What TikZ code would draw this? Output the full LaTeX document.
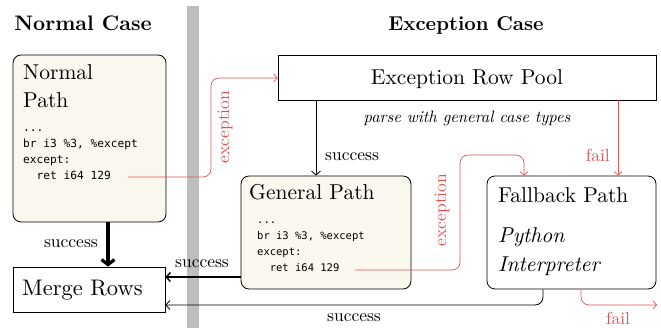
\documentclass[tikz,border=0pt]{standalone}
\usepackage{fontspec}
\setmainfont{lmroman10}[Extension=.otf, UprightFont=*-regular, BoldFont=*-bold, ItalicFont=*-italic, BoldItalicFont=*-bolditalic]
\newfontfamily\codefont{DejaVu Sans Mono}
\usetikzlibrary{arrows.meta}
\definecolor{exred}{RGB}{222,85,85}
\definecolor{cream}{RGB}{250,247,238}
\definecolor{bargray}{RGB}{190,190,190}
\begin{document}
\begin{tikzpicture}[x=1pt,y=-1pt,
  pathbox/.style={draw, line width=0.8pt, rounded corners=8pt, fill=cream, inner sep=0pt},
  plainbox/.style={draw, line width=0.8pt, fill=white, inner sep=0pt},
  bigtxt/.style={font=\fontsize{21.5}{26}\selectfont, inner sep=0pt, anchor=base west},
  codeA/.style={font=\codefont\fontsize{11.2}{14}\selectfont, inner sep=0pt, anchor=base west},
  codeB/.style={font=\codefont\fontsize{10.5}{14}\selectfont, inner sep=0pt, anchor=base west},
  lbl/.style={font=\fontsize{17.5}{20}\selectfont, inner sep=0pt},
  redlbl/.style={lbl, text=exred},
  redarrow/.style={draw=exred, line width=0.7pt, rounded corners=8pt, -{Straight Barb[length=3.5pt,width=8pt]}},
  blkarrow/.style={draw=black, line width=0.8pt, rounded corners=8pt, -{Straight Barb[length=4pt,width=9pt]}},
]
\useasboundingbox (0,0) rectangle (661,328);
% titles
\node[font=\bfseries\fontsize{21}{24}\selectfont, inner sep=0pt, anchor=base] (t1) at (83,31) {Normal Case};
\node[font=\bfseries\fontsize{20}{24}\selectfont, inner sep=0pt, anchor=base] (t2) at (466,31) {Exception Case};
% separator bar
\fill[bargray] (187,6) rectangle (199,328);

% Normal path
\node[pathbox, minimum width=153pt, minimum height=167pt] (np) at (89.5,138.5) {};
\node[bigtxt] (npt1) at (23,80) {Normal};
\node[bigtxt] (npt2) at (23,108) {Path};
\node[codeA] (npc1) at (23,132) {...};
\node[codeA] (npc2) at (23,148) {br i3 \%3, \%except};
\node[codeA] (npc3) at (23,164) {except:};
\node[codeA] (npc4) at (23,180) {\phantom{xx}ret i64 129};
\coordinate (nex) at (128,177);

% Merge rows
\node[plainbox, minimum width=152pt, minimum height=45pt] (mr) at (89,289.5) {};
\node[bigtxt, font=\fontsize{22.5}{26}\selectfont] (mrt) at (22,296) {Merge Rows};

% Exception Row Pool
\node[plainbox, minimum width=378pt, minimum height=45pt] (erp) at (467,77.5) {};
\node[font=\fontsize{21.5}{26}\selectfont, inner sep=0pt, anchor=base] (erpt) at (467,85) {Exception Row Pool};
\node[font=\itshape\fontsize{16.5}{20}\selectfont, inner sep=0pt, anchor=base] (parse) at (467,123) {parse with general case types};

% General path
\node[pathbox, minimum width=170pt, minimum height=113pt] (gp) at (326,232.5) {};
\node[bigtxt] (gpt) at (249,200) {General Path};
\node[codeB] (gpc1) at (257,224) {...};
\node[codeB] (gpc2) at (257,240) {br i3 \%3, \%except};
\node[codeB] (gpc3) at (257,256) {except:};
\node[codeB] (gpc4) at (257,272) {\phantom{xx}ret i64 129};
\coordinate (gex) at (355,270);

% Fallback path
\node[pathbox, fill=white, minimum width=169pt, minimum height=113pt] (fp) at (571.5,232.5) {};
\node[bigtxt] (fpt) at (498,203) {Fallback Path};
\node[bigtxt, font=\itshape\fontsize{21.5}{26}\selectfont] (fpt2) at (498,243) {Python};
\node[bigtxt, font=\itshape\fontsize{21.5}{26}\selectfont] (fpt3) at (498,272) {Interpreter};

% connectors
\draw[line width=3.2pt, -{Straight Barb[length=5pt,width=13pt]}] (np.south -| 108,0) -- (mr.north -| 108,0);
\node[lbl, anchor=base east] (s1) at (98,248) {success};

\draw[blkarrow] (erp.south -| 316,0) -- (gp.north -| 316,0);
\node[lbl, anchor=base west] (s2) at (325,161) {success};

\draw[line width=1.4pt, -{Straight Barb[length=4pt,width=9pt]}] (gp.west |- 0,277) -- (mr.east |- 0,277);
\node[lbl, anchor=base] (s3) at (202,268) {success};

\draw[blkarrow] (fp.south -| 543,0) -- (543,305) -- (mr.east |- 0,305);
\node[lbl, anchor=base] (s4) at (354,322) {success};

\draw[redarrow] (nex) -- (211,177) -- (211,78) -- (erp.west |- 0,78);
\node[redlbl, rotate=90] (e1) at (225,127) {exception};

\draw[redarrow] (gex) -- (460,270) -- (460,155) -- (524,155) -- (fp.north -| 524,0);
\node[redlbl, rotate=90] (e2) at (442,210) {exception};

\draw[redarrow] (erp.south -| 618,0) -- (fp.north -| 618,0);
\node[redlbl, anchor=base east] (f1) at (610,162) {fail};

\coordinate (failend) at (657,305);
\draw[redarrow] (fp.south -| 581,0) -- (581,305) -- (failend);
\node[redlbl, anchor=base west] (f2) at (606,325) {fail};
\end{tikzpicture}
\end{document}
